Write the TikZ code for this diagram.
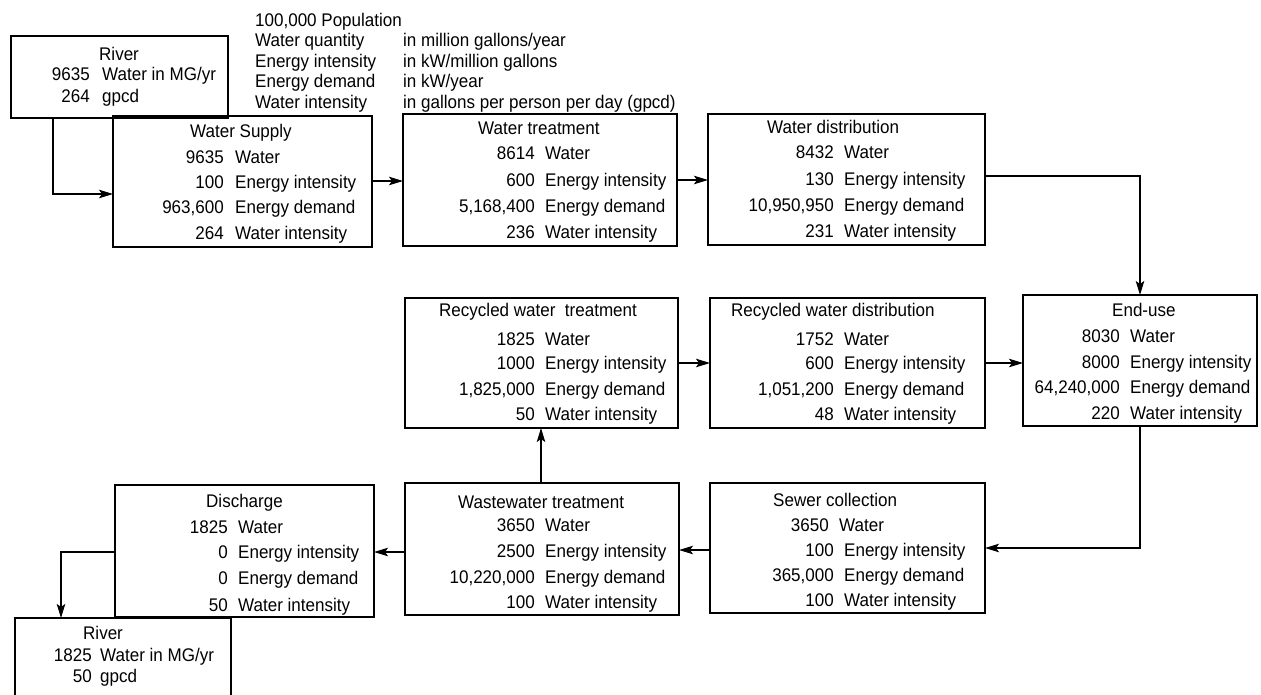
\documentclass[tikz,border=0pt]{standalone}
\usepackage{fontspec}
\setmainfont[FakeStretch=0.93]{Liberation Sans}
\usetikzlibrary{arrows.meta}
\newcommand\bx[5]{\node[box, minimum width={(#4-#2)*1pt}, minimum height={(#5-#3)*1pt}] (#1) at (#2,#3) {};}
\newcommand\rw[6]{\node[num] (#1n) at (#2,#4+6) {#5}; \node[lab] (#1l) at (#3,#4+6) {#6};}
\newcommand\ttl[4]{\node[lab] (#1) at (#2,#3+6) {#4};}
\begin{document}
\begin{tikzpicture}[x=1pt,y=-1pt,
  box/.style={draw, line width=1.4pt, rectangle, inner sep=0pt, outer sep=0pt, anchor=north west},
  txt/.style={inner sep=0pt, font=\fontsize{18.3}{21}\selectfont},
  num/.style={txt, anchor=base east},
  lab/.style={txt, anchor=base west},
  arr/.style={line width=1.3pt, -{Stealth[length=14pt,width=8.5pt,inset=3pt]}}]
\useasboundingbox (0,0) rectangle (1261,694);
\fill[white] (0,0) rectangle (1261,694);
\clip (0,0) rectangle (1261,694);

% header
\ttl{h0}{255}{20}{100,000 Population}
\ttl{h1}{255}{40}{Water quantity}
\ttl{h2}{255}{61}{Energy intensity}
\ttl{h3}{255}{81}{Energy demand}
\ttl{h4}{255}{102}{Water intensity}
\ttl{u1}{403}{40}{in million gallons/year}
\ttl{u2}{403}{61}{in kW/million gallons}
\ttl{u3}{403}{81}{in kW/year}
\ttl{u4}{403}{102}{in gallons per person per day (gpcd)}

% River (top)
\bx{riverA}{11}{36}{228}{118}
\ttl{riverAt}{99}{54}{River}
\rw{rA1}{90}{102}{74}{9635}{Water in MG/yr}
\rw{rA2}{90}{102}{96}{264}{gpcd}

% Water Supply
\bx{supply}{113}{116}{372}{247}
\ttl{supt}{190}{131}{Water Supply}
\rw{su1}{224}{235}{157}{9635}{Water}
\rw{su2}{224}{235}{182}{100}{Energy intensity}
\rw{su3}{224}{235}{207}{963,600}{Energy demand}
\rw{su4}{224}{235}{233}{264}{Water intensity}

% Water treatment
\bx{treat}{403}{114}{677}{246}
\ttl{trt}{478}{128}{Water treatment}
\rw{tr1}{535}{545}{153}{8614}{Water}
\rw{tr2}{535}{545}{180}{600}{Energy intensity}
\rw{tr3}{535}{545}{206}{5,168,400}{Energy demand}
\rw{tr4}{535}{545}{232}{236}{Water intensity}

% Water distribution
\bx{dist}{708}{114}{985}{245}
\ttl{dit}{767}{127}{Water distribution}
\rw{di1}{834}{844}{152}{8432}{Water}
\rw{di2}{834}{844}{179}{130}{Energy intensity}
\rw{di3}{834}{844}{205}{10,950,950}{Energy demand}
\rw{di4}{834}{844}{231}{231}{Water intensity}

% End-use
\bx{enduse}{1023}{295}{1257}{426}
\ttl{eut}{1112}{310}{End-use}
\rw{eu1}{1120}{1130}{336}{8030}{Water}
\rw{eu2}{1120}{1130}{362}{8000}{Energy intensity}
\rw{eu3}{1120}{1130}{387}{64,240,000}{Energy demand}
\rw{eu4}{1120}{1130}{413}{220}{Water intensity}

% Recycled water treatment
\bx{rtreat}{405}{298}{678}{428}
\ttl{rtt}{439}{310}{Recycled water\ \ treatment}
\rw{rt1}{535}{545}{339}{1825}{Water}
\rw{rt2}{535}{545}{363}{1000}{Energy intensity}
\rw{rt3}{535}{545}{389}{1,825,000}{Energy demand}
\rw{rt4}{535}{545}{414}{50}{Water intensity}

% Recycled water distribution
\bx{rdist}{710}{298}{985}{428}
\ttl{rdt}{731}{310}{Recycled water distribution}
\rw{rd1}{834}{844}{339}{1752}{Water}
\rw{rd2}{834}{844}{363}{600}{Energy intensity}
\rw{rd3}{834}{844}{389}{1,051,200}{Energy demand}
\rw{rd4}{834}{844}{414}{48}{Water intensity}

% Wastewater treatment
\bx{waste}{405}{483}{679}{615}
\ttl{wat}{458}{502}{Wastewater treatment}
\rw{wa1}{535}{545}{525}{3650}{Water}
\rw{wa2}{535}{545}{551}{2500}{Energy intensity}
\rw{wa3}{535}{545}{577}{10,220,000}{Energy demand}
\rw{wa4}{535}{545}{602}{100}{Water intensity}

% Sewer collection
\bx{sewer}{710}{483}{985}{613}
\ttl{set}{773}{500}{Sewer collection}
\rw{se1}{829}{839}{525}{3650}{Water}
\rw{se2}{834}{844}{550}{100}{Energy intensity}
\rw{se3}{834}{844}{575}{365,000}{Energy demand}
\rw{se4}{834}{844}{600}{100}{Water intensity}

% Discharge
\bx{discharge}{115}{485}{374}{617}
\ttl{dct}{206}{501}{Discharge}
\rw{dc1}{228}{238}{527}{1825}{Water}
\rw{dc2}{228}{238}{552}{0}{Energy intensity}
\rw{dc3}{228}{238}{578}{0}{Energy demand}
\rw{dc4}{228}{238}{605}{50}{Water intensity}

% River (bottom)
\bx{riverB}{15}{618}{231}{720}
\ttl{riverBt}{83}{633}{River}
\rw{rB1}{92}{100}{655}{1825}{Water in MG/yr}
\rw{rB2}{92}{100}{676}{50}{gpcd}

% connectors
\coordinate (a1) at (53,194);
\coordinate (a2) at (0,181);
\coordinate (a3) at (0,180);
\coordinate (a4) at (1140,176);
\coordinate (a5) at (0,548);
\coordinate (a6) at (0,550);
\coordinate (a7) at (541,0);
\coordinate (a8) at (0,363);
\coordinate (a9) at (0,552);
\coordinate (a10) at (61,552);
\draw[arr] (riverA.south -| a1) |- (supply.west |- a1);
\draw[arr] (supply.east |- a2) -- (treat.west |- a2);
\draw[arr] (treat.east |- a3) -- (dist.west |- a3);
\draw[arr] (dist.east |- a4) -| (enduse.north);
\draw[arr] (enduse.south) |- (sewer.east |- a5);
\draw[arr] (sewer.west |- a6) -- (waste.east |- a6);
\draw[arr] (waste.north -| a7) -- (rtreat.south -| a7);
\draw[arr] (rtreat.east |- a8) -- (rdist.west |- a8);
\draw[arr] (rdist.east |- a8) -- (enduse.west |- a8);
\draw[arr] (waste.west |- a9) -- (discharge.east |- a9);
\draw[arr] (discharge.west |- a10) -| (riverB.north -| a10);
\end{tikzpicture}
\end{document}
